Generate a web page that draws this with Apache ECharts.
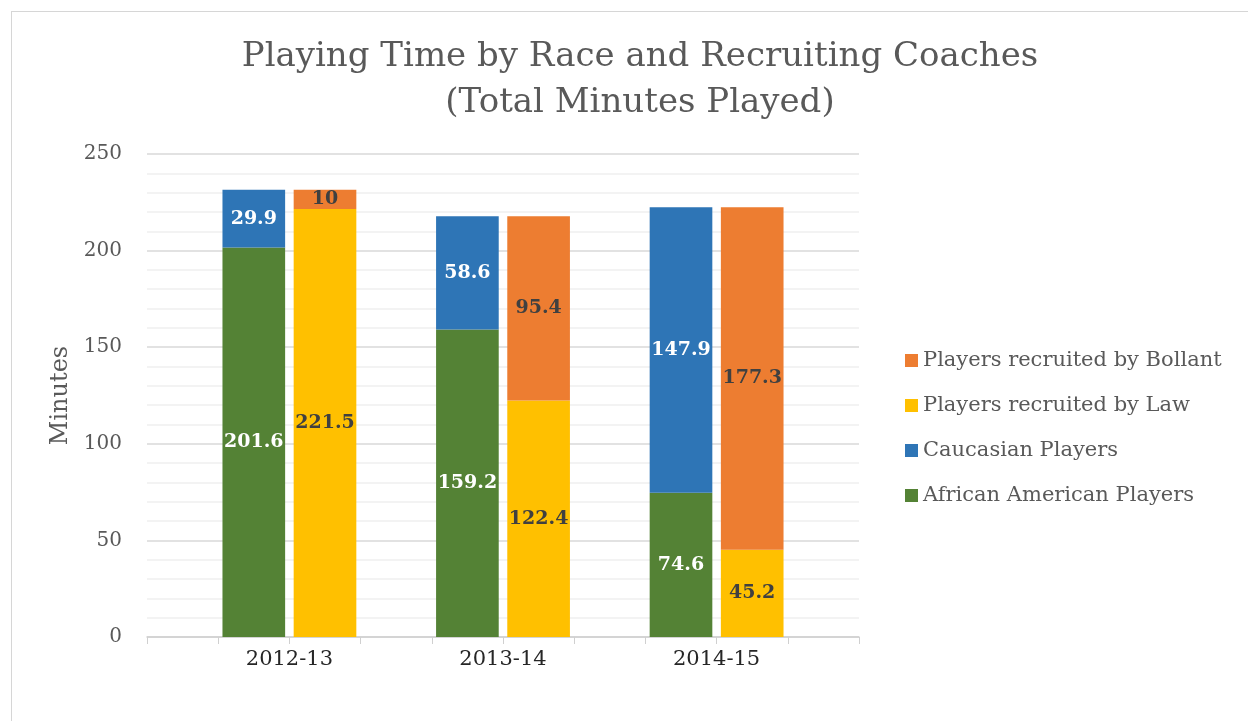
<!DOCTYPE html>
<html>
<head>
<meta charset="utf-8">
<title>Playing Time by Race and Recruiting Coaches</title>
<script src="https://cdn.jsdelivr.net/npm/echarts@6/dist/echarts.min.js"></script>
<style>
  html, body { margin: 0; padding: 0; background: #fff; }
  #frame {
    position: absolute; left: 11px; top: 11px; width: 1300px; height: 800px;
    border-left: 1px solid #d6d6d6; border-top: 1px solid #d6d6d6;
  }
  #chart { position: absolute; left: 0; top: 0; width: 1248px; height: 721px; }
</style>
</head>
<body>
<div id="frame"></div>
<div id="chart"></div>
<script>
const seasons = ['2012-13', '2013-14', '2014-15'];
const africanAmerican = [201.6, 159.2, 74.6];
const caucasian = [29.9, 58.6, 147.9];
const byLaw = [221.5, 122.4, 45.2];
const byBollant = [10, 95.4, 177.3];
const yTicks = [0, 50, 100, 150, 200, 250];

// Excel-style layout: each season uses three slots (race column, coach column, blank),
// with one leading blank slot -> 10 slots on the axis.
const slotCount = 1 + seasons.length * 3;
const slotNames = Array.from({ length: slotCount }, (_, i) => 'slot' + i);
const spread = (values, offset) => {
  const out = Array(slotCount).fill('-');
  values.forEach((v, i) => { out[1 + i * 3 + offset] = v; });
  return out;
};
// season label sits on the boundary between its two columns
const seasonAt = {};
seasons.forEach((s, i) => { seasonAt[2 + i * 3] = s; });

const serif = '"DejaVu Serif", "Liberation Serif", serif';

const chart = echarts.init(document.getElementById('chart'));

const barLabel = (color) => ({
  show: true,
  position: 'inside',
  color: color,
  fontFamily: serif,
  fontWeight: 'bold',
  fontSize: 19
});

chart.setOption({
  animation: false,
  title: {
    text: 'Playing Time by Race and Recruiting Coaches\n(Total Minutes Played)',
    left: 635,
    textAlign: 'center',
    top: 29,
    textStyle: {
      fontFamily: serif,
      fontWeight: 'normal',
      fontSize: 34,
      lineHeight: 46,
      color: '#595959'
    }
  },
  legend: {
    orient: 'vertical',
    left: 900,
    top: 345,
    itemWidth: 13,
    itemHeight: 13,
    itemGap: 24,
    icon: 'rect',
    data: ['Players recruited by Bollant', 'Players recruited by Law', 'Caucasian Players', 'African American Players'],
    textStyle: { fontFamily: serif, fontSize: 21, color: '#595959' }
  },
  grid: { left: 147, right: 389, top: 154, bottom: 84 },
  xAxis: [
    {
      type: 'category',
      data: slotNames,
      axisLine: { lineStyle: { color: '#d0d0d0', width: 1.5 } },
      axisTick: { show: true, interval: 0, length: 7, lineStyle: { color: '#d0d0d0' } },
      axisLabel: { show: false }
    },
    {
      type: 'value',
      position: 'bottom',
      min: 0,
      max: slotCount,
      interval: 1,
      axisLine: { show: false },
      axisTick: { show: false },
      splitLine: { show: false },
      axisLabel: {
        fontFamily: serif, fontSize: 21, color: '#262626', margin: 12,
        formatter: (v) => seasonAt[v] || ''
      }
    }
  ],
  yAxis: {
    type: 'value',
    min: yTicks[0],
    max: yTicks[yTicks.length - 1],
    interval: yTicks[1] - yTicks[0],
    name: 'Minutes',
    nameLocation: 'middle',
    nameGap: 73,
    nameRotate: 90,
    nameTextStyle: { fontFamily: serif, fontSize: 24, color: '#595959' },
    axisLine: { show: false },
    axisTick: { show: false },
    axisLabel: { fontFamily: serif, fontSize: 20, color: '#595959', margin: 25 },
    splitLine: { lineStyle: { color: '#d9d9d9', width: 1.5 } },
    minorTick: { show: false, splitNumber: 5 },
    minorSplitLine: { show: true, lineStyle: { color: '#efefef', width: 1.5 } }
  },
  series: [
    {
      name: 'African American Players', type: 'bar', stack: 'total',
      data: spread(africanAmerican, 0), barCategoryGap: '12%',
      itemStyle: { color: '#548235' },
      label: barLabel('#ffffff')
    },
    {
      name: 'Caucasian Players', type: 'bar', stack: 'total',
      data: spread(caucasian, 0),
      itemStyle: { color: '#2e75b6' },
      label: barLabel('#ffffff')
    },
    {
      name: 'Players recruited by Law', type: 'bar', stack: 'total',
      data: spread(byLaw, 1),
      itemStyle: { color: '#ffc000' },
      label: barLabel('#404040')
    },
    {
      name: 'Players recruited by Bollant', type: 'bar', stack: 'total',
      data: spread(byBollant, 1),
      itemStyle: { color: '#ed7d31' },
      label: barLabel('#404040')
    }
  ]
});
</script>
</body>
</html>
